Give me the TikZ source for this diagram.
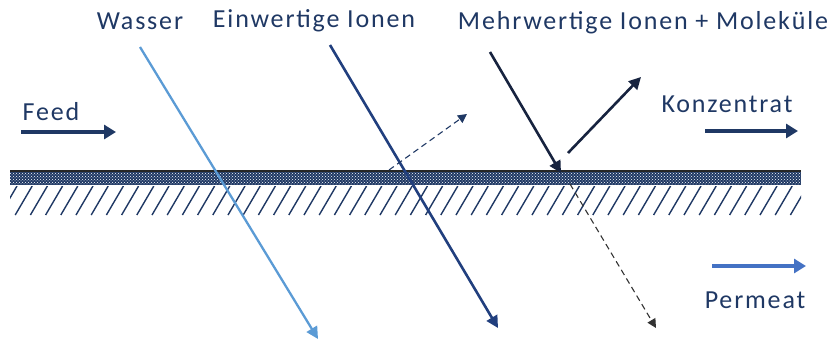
\documentclass[tikz,border=0pt]{standalone}
\usepackage{fontspec}
\setmainfont{Carlito}[LetterSpace=7]
\usetikzlibrary{arrows.meta,patterns}
\definecolor{navy}{HTML}{1F3864}
\definecolor{lightblue}{HTML}{5B9BD5}
\definecolor{midblue}{HTML}{4472C4}
\definecolor{darkblue}{HTML}{213F7E}
\definecolor{darknavy}{HTML}{17233F}
\tikzset{
  lbl/.style={text=navy,font=\fontsize{26}{30}\selectfont,inner sep=0pt},
  tip/.style={-{Triangle[length=12pt,width=12pt]}},
  flow/.style={-{Triangle[length=12pt,width=14pt]},line width=3.6pt,draw=navy},
  ray/.style={tip,line width=2.6pt},
  dashray/.style={-{Triangle[length=9pt,width=9pt]},line width=1.1pt,dash pattern=on 6pt off 4pt},
}
\begin{document}
\begin{tikzpicture}[x=1pt,y=-1pt]
\useasboundingbox (0,0) rectangle (839,343);
% membrane
\fill[navy] (10,172) rectangle (801,185);
\fill[pattern=crosshatch dots,pattern color=white] (10,172) rectangle (801,185);
\draw[line width=2pt,black!85] (10,171) -- (801,171);
\begin{scope}
\clip (10,186) rectangle (801,215);
\foreach \i in {0,...,52} {
  \draw[navy,line width=1.4pt] ({\i*15.2},215) -- ({\i*15.2+17},186);
}
\end{scope}
% labels
\node[lbl] (wasser) at (140,21) {Wasser};
\node[lbl] (einw) at (314,21) {Einwertige Ionen};
\node[lbl] (mehrw) at (643,23) {Mehrwertige Ionen + Moleküle};
\node[lbl] (feed) at (51,112) {Feed};
\node[lbl] (konz) at (727,104) {Konzentrat};
\node[lbl] (perm) at (755,300) {Permeat};
% coordinates
\coordinate (w1) at (140,47);
\coordinate (w2) at (318,339);
\coordinate (e1) at (330,45);
\coordinate (e2) at (498,328);
\coordinate (m1) at (490,52);
\coordinate (m2) at (561,173);
\coordinate (r1) at (568,153);
\coordinate (r2) at (641,77);
\coordinate (d1) at (389,170);
\coordinate (d2) at (467,114);
\coordinate (p1) at (570,184);
\coordinate (p2) at (656,328);
\coordinate (f1) at (21,132);
\coordinate (f2) at (116,132);
\coordinate (k1) at (705,131);
\coordinate (k2) at (798,131);
\coordinate (q1) at (712,266);
\coordinate (q2) at (806,266);
% arrows
\draw[ray,lightblue,line width=2.3pt] (w1) -- (w2);
\draw[ray,darkblue] (e1) -- (e2);
\draw[ray,darknavy] (m1) -- (m2);
\draw[ray,darknavy] (r1) -- (r2);
\draw[dashray,navy] (d1) -- (d2);
\draw[dashray,black!80] (p1) -- (p2);
\draw[flow] (f1) -- (f2);
\draw[flow] (k1) -- (k2);
\draw[flow,draw=midblue] (q1) -- (q2);
\end{tikzpicture}
\end{document}
